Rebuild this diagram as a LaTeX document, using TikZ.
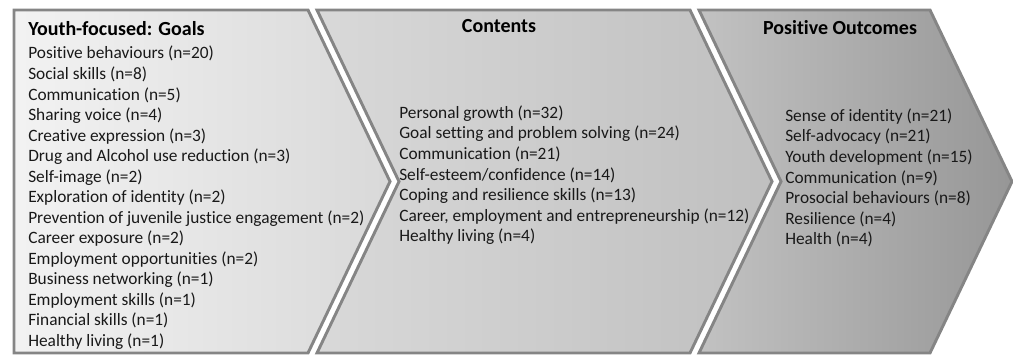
\documentclass[tikz,border=0pt]{standalone}
\usepackage{fontspec}
\setmainfont{Carlito}[Ligatures=NoCommon]
\usetikzlibrary{positioning}
\definecolor{rim}{HTML}{858585}
\tikzset{
    stage/.style={draw=rim, line width=2.2pt, line join=miter},
    heading/.style={font=\fontsize{15}{18}\selectfont\bfseries, inner sep=0pt},
    items/.style={font=\fontsize{13}{15.4}\selectfont, align=left, inner sep=0pt, anchor=north west, text=black!90}
}
\begin{document}
\begin{tikzpicture}[x=0.75pt, y=-0.75pt]
        \useasboundingbox (0,0) rectangle (1013,356);
        % the three stages, each an arrow pointing right
        \path[stage, left color=black!5, right color=black!15]
            (14,10) -- (308,10) -- (390,181.5) -- (308,353) -- (14,353) -- cycle;
        \path[stage, left color=black!15, right color=black!25]
            (317,10) -- (690,10) -- (772,181.5) -- (690,353) -- (317,353) -- (399,181.5) -- cycle;
        \path[stage, left color=black!24, right color=black!41]
            (699,10) -- (930,10) -- (1012,181.5) -- (930,353) -- (699,353) -- (781,181.5) -- cycle;
        % headings
        \node[heading, anchor=base west] (goalsTitle) at (28,36) {Youth-focused: Goals};
        \node[heading, anchor=base] (contentsTitle) at (499,33) {Contents};
        \node[heading, anchor=base] (outcomesTitle) at (840,35) {Positive Outcomes};
        % lists
        \node[items] (goals) at (28,46) {Positive behaviours (n=20)\\
            Social skills (n=8)\\
            Communication (n=5)\\
            Sharing voice (n=4)\\
            Creative expression (n=3)\\
            Drug and Alcohol use reduction (n=3)\\
            Self-image (n=2)\\
            Exploration of identity (n=2)\\
            Prevention of juvenile justice engagement (n=2)\\
            Career exposure (n=2)\\
            Employment opportunities (n=2)\\
            Business networking (n=1)\\
            Employment skills (n=1)\\
            Financial skills (n=1)\\
            Healthy living (n=1)};
        \node[items] (contents) at (399,105.5) {Personal growth (n=32)\\
            Goal setting and problem solving (n=24)\\
            Communication (n=21)\\
            Self-esteem/confidence (n=14)\\
            Coping and resilience skills (n=13)\\
            Career, employment and entrepreneurship (n=12)\\
            Healthy living (n=4)};
        \node[items] (outcomes) at (785,108.5) {Sense of identity (n=21)\\
            Self-advocacy (n=21)\\
            Youth development (n=15)\\
            Communication (n=9)\\
            Prosocial behaviours (n=8)\\
            Resilience (n=4)\\
            Health (n=4)};
\end{tikzpicture}
\end{document}
